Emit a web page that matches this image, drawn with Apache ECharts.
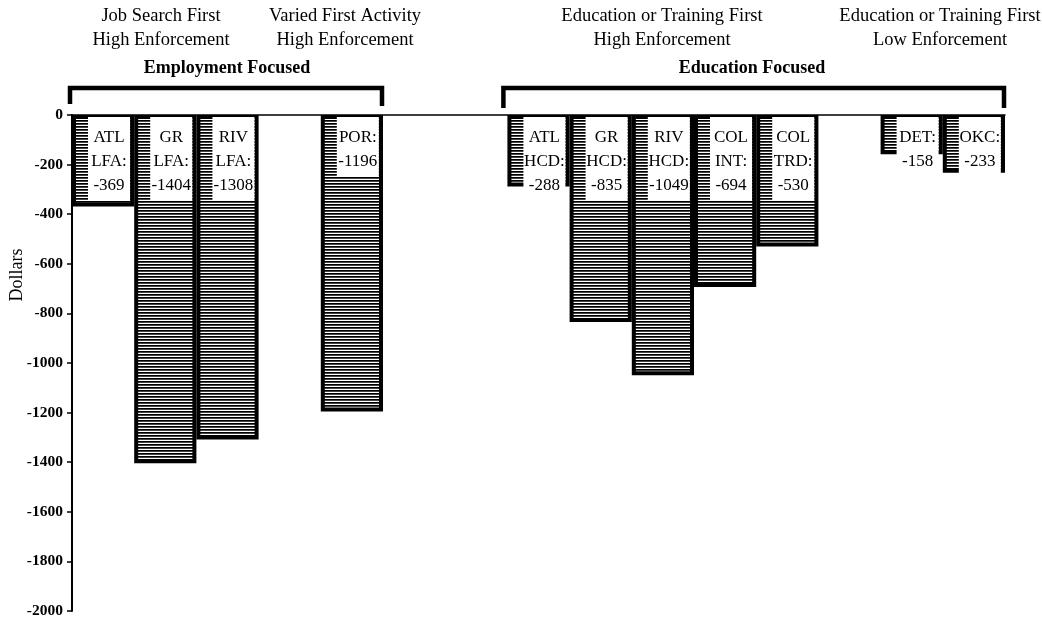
<!DOCTYPE html>
<html>
<head>
<meta charset="utf-8">
<script src="https://cdn.jsdelivr.net/npm/echarts@6/dist/echarts.min.js"></script>
<style>
html,body{margin:0;padding:0;background:#fff;}
#chart{width:1042px;height:620px;}
</style>
</head>
<body>
<div id="chart"></div>
<script>
// ---- data ----
var slots    = ['s0','s1','s2','s3','s4','s5','s6','s7','s8','s9','s10','s11','s12','s13','s14'];
var sites    = ['ATL','GR','RIV','','POR','','','ATL','GR','RIV','COL','COL','','DET','OKC'];
var programs = ['LFA','LFA','LFA','','','','','HCD','HCD','HCD','INT','TRD','','',''];
var values   = [-369,-1404,-1308,null,-1196,null,null,-288,-835,-1049,-694,-530,null,-158,-233];
var yTicks   = {min:-2000, max:0, interval:200};
var yAxisName = 'Dollars';
var headers = [
  {lines:['Job Search First','High Enforcement'], x:161},
  {lines:['Varied First Activity','High Enforcement'], x:345},
  {lines:['Education or Training First','High Enforcement'], x:662},
  {lines:['Education or Training First','Low Enforcement'], x:940}
];
var groups = [
  {name:'Employment Focused', from:0, to:4, textX:227},
  {name:'Education Focused', from:7, to:14, textX:752}
];

// hatch pattern
var pc = document.createElement('canvas');
pc.width = 6; pc.height = 3;
var g = pc.getContext('2d');
g.fillStyle = '#fff'; g.fillRect(0,0,6,3);
g.fillStyle = '#000'; g.fillRect(0,0,6,1);
g.fillStyle = '#444'; g.fillRect(0,1,6,1);

var serif = '"Liberation Serif","Times New Roman",serif';

var chart = echarts.init(document.getElementById('chart'), null, {renderer:'canvas'});
var option = {
  animation:false,
  backgroundColor:'#fff',
  grid:{left:72, right:37, top:115, bottom:9, containLabel:false},
  xAxis:{
    type:'category', data:slots, boundaryGap:true,
    axisLine:{show:true, onZero:true, lineStyle:{color:'#000', width:1.5}},
    axisTick:{show:false}, axisLabel:{show:false}, splitLine:{show:false}
  },
  yAxis:{
    type:'value', min:yTicks.min, max:yTicks.max, interval:yTicks.interval,
    axisLine:{show:true, lineStyle:{color:'#000', width:2}},
    axisTick:{show:true, inside:false, length:5, lineStyle:{color:'#000', width:1.5}},
    axisLabel:{color:'#000', fontFamily:serif, fontSize:15.5, fontWeight:'bold', margin:9,
      formatter:function(v){ return String(v); }},
    splitLine:{show:false}
  },
  series:[{
    type:'bar',
    data:values,
    barCategoryGap:'0%',
    barGap:'0%',
    itemStyle:{
      color:{image:pc, repeat:'repeat'},
      borderColor:'#000',
      borderWidth:4
    },
    label:{
      show:true,
      position:['59.5%', 2],
      align:'center',
      verticalAlign:'top',
      width:42,
      overflow:'none',
      backgroundColor:'#fff',
      padding:[9,0,2,0],
      lineHeight:24,
      color:'#000',
      fontFamily:serif,
      fontSize:17,
      formatter:function(p){
        var i = p.dataIndex;
        var v = values[i];
        if (programs[i]) return sites[i] + '\n' + programs[i] + ':\n' + v;
        return sites[i] + ':\n' + v;
      }
    }
  }]
};
chart.setOption(option);

// annotations positioned from the category scale
var c0 = chart.convertToPixel({xAxisIndex:0}, 0);
var c1 = chart.convertToPixel({xAxisIndex:0}, 1);
var w = c1 - c0;
function leftEdge(i){ return chart.convertToPixel({xAxisIndex:0}, i) - w/2; }
function rightEdge(i){ return chart.convertToPixel({xAxisIndex:0}, i) + w/2; }

var elements = [];
headers.forEach(function(h){
  h.lines.forEach(function(t, k){
    elements.push({type:'text', style:{text:t, x:h.x, y:16 + k*24, align:'center', verticalAlign:'middle',
      fill:'#000', font:'18.5px ' + serif}});
  });
});
groups.forEach(function(gr, k){
  elements.push({type:'text', style:{text:gr.name, x:gr.textX, y:68, align:'center', verticalAlign:'middle',
    fill:'#000', font:'bold 18px ' + serif}});
  var xl = leftEdge(gr.from) - (k === 0 ? 2 : 4);
  var xr = rightEdge(gr.to) - 1;
  elements.push({type:'polyline', shape:{points:[[xl, k===0?104:108],[xl,88],[xr,88],[xr, k===0?106:108]]},
    style:{stroke:'#000', lineWidth:4.5, fill:null, lineJoin:'miter'}});
});
elements.push({type:'text', rotation:Math.PI/2, x:17, y:275,
  style:{text:yAxisName, x:0, y:0, align:'center', verticalAlign:'middle', fill:'#000', font:'18px ' + serif}});
chart.setOption({graphic:{elements:elements}});
</script>
</body>
</html>
